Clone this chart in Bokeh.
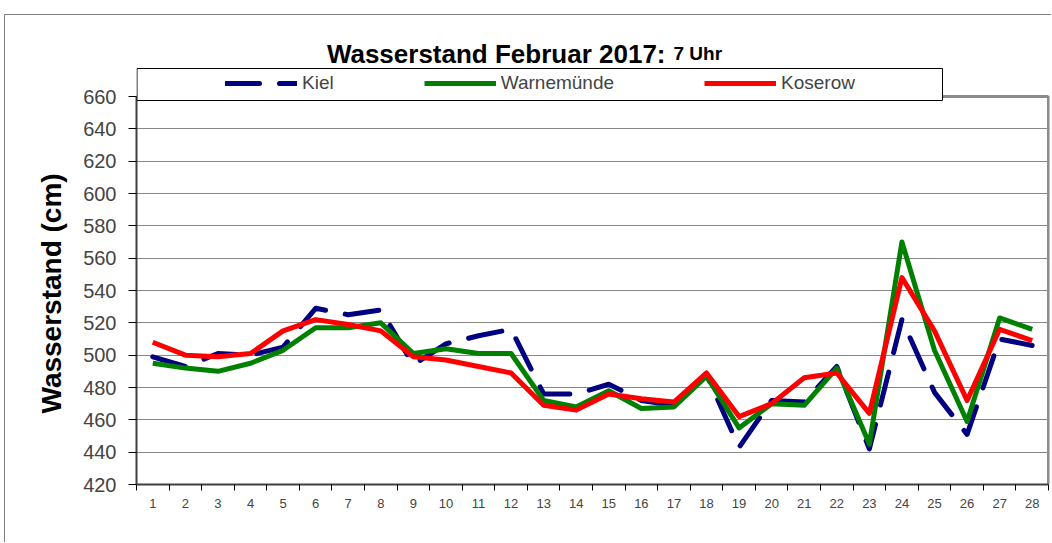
from bokeh.plotting import figure
from bokeh.models import (Range1d, FixedTicker, Legend, LegendItem, Label, Title,
                          BoxAnnotation, ColumnDataSource)
from bokeh.embed import file_html
from bokeh.resources import INLINE

# ---- data ----
days = list(range(1, 29))
day_labels = [str(d) for d in days]
kiel = [499, 493, 501, 500, 505, 529, 525, 528, 494, 507, 512, 516, 476, 476,
        482, 472, 469, 488, 443, 472, 471, 493, 442, 522, 477, 451, 510, 506]
warnemuende = [495, 492, 490, 495, 503, 517, 517, 520, 501, 504, 501, 501, 472, 468,
               478, 467, 468, 487, 455, 470, 469, 492, 445, 570, 503, 459, 523, 516]
koserow = [508, 500, 499, 501, 515, 522, 519, 515, 499, 497, 493, 489, 469, 466,
           476, 473, 471, 489, 462, 470, 486, 489, 464, 548, 515, 472, 516, 509]
y_ticks = list(range(420, 661, 20))
series_names = ["Kiel", "Warnemünde", "Koserow"]
title_main = "Wasserstand Februar 2017:"
title_sub = "7 Uhr"
y_title = "Wasserstand (cm)"

FONT = "Liberation Sans"

# ---- layout (page pixels) ----
OX, OY = 5, 15                  # canvas origin on the page (after css margin+border)
PAGE_W, PAGE_H = 1052, 543
W, H = PAGE_W - OX, PAGE_H - OY
F_LEFT, F_RIGHT, F_BOTTOM = 136, 1049, 484     # frame edges (page px)
PLOT_TOP = 96                                   # where the value 660 sits
ML, MR, MT, MB = F_LEFT - OX, PAGE_W - F_RIGHT, 0, PAGE_H - F_BOTTOM
FW, FH = W - ML - MR, H - MT - MB
YMIN, YMAX = 420, 660
ppu_y = (F_BOTTOM - PLOT_TOP) / (YMAX - YMIN)
ppu_x = (1048 - F_LEFT) / 28.0
X0 = 0.5
X1 = X0 + FW / ppu_x
Y1 = YMIN + FH / ppu_y

p = figure(width=W, height=H, output_backend="svg", toolbar_location=None,
           x_range=Range1d(X0, X1), y_range=Range1d(YMIN, Y1),
           min_border_left=ML, min_border_right=MR, min_border_top=MT,
           min_border_bottom=MB, background_fill_color="white",
           border_fill_color="white")
p.styles = {"margin-left": "4px", "margin-top": "14px",
            "border-left": "1px solid #808080", "border-top": "1px solid #808080"}


def px_x(px):
    return X0 + (px - F_LEFT) / ppu_x


def px_y(py):
    return YMIN + (F_BOTTOM - py) / ppu_y


p.outline_line_color = None

# axes
p.xaxis.bounds = (0.5, 28.5)
p.xaxis.ticker = FixedTicker(ticks=days, minor_ticks=[d - 0.5 for d in days] + [28.5])
p.xaxis.major_label_overrides = {d: l for d, l in zip(days, day_labels)}
p.xaxis.major_tick_out = 0
p.xaxis.major_tick_in = 0
p.xaxis.minor_tick_out = 6
p.xaxis.minor_tick_in = 0
p.xaxis.minor_tick_line_color = "black"
p.xaxis.axis_line_color = "#404040"
p.xaxis.axis_line_width = 2
p.xaxis.major_label_text_font = FONT
p.xaxis.major_label_text_font_size = "13px"
p.xaxis.major_label_standoff = 8

p.yaxis.bounds = (YMIN, YMAX)
p.yaxis.ticker = FixedTicker(ticks=y_ticks, minor_ticks=[])
p.yaxis.major_tick_out = 8
p.yaxis.major_tick_in = 0
p.yaxis.major_tick_line_color = "black"
p.yaxis.axis_line_color = "#404040"
p.yaxis.axis_line_width = 2
p.yaxis.major_label_text_font = FONT
p.yaxis.major_label_text_font_size = "20px"
p.yaxis.major_label_standoff = 12

# y title as a side Title, started from the bottom so it sits centred on 420..660
ytitle = Title(text=y_title, align="left", offset=F_BOTTOM - 413,
               text_font=FONT, text_font_size="28px", text_font_style="bold",
               text_color="black", standoff=28)
p.add_layout(ytitle, "left")

p.xgrid.visible = False
p.ygrid.ticker = FixedTicker(ticks=y_ticks)
p.ygrid.bounds = (YMIN, YMAX)
p.ygrid.grid_line_color = "#111111"
p.ygrid.grid_line_dash = "1 1"
p.ygrid.grid_line_width = 1

# plot-area border (top / right, grey)
p.line([0.5, 28.5], [YMAX, YMAX], line_color="#8c8c8c", line_width=3)
p.line([28.5, 28.5], [YMIN, YMAX], line_color="#8c8c8c", line_width=3)

src = ColumnDataSource(dict(day=days, kiel=kiel, warn=warnemuende, kos=koserow))
r1 = p.line("day", "kiel", source=src, line_color="#000080", line_width=5,
            line_dash="34 20", line_cap="round", line_join="round")
r2 = p.line("day", "warn", source=src, line_color="#008000", line_width=5,
            line_join="round")
r3 = p.line("day", "kos", source=src, line_color="#ff0000", line_width=5,
            line_join="round")

# legend box
lbox = BoxAnnotation(left=px_x(136.5), right=px_x(942), top=px_y(68), bottom=px_y(100),
                     fill_color="white", fill_alpha=1, line_color="black",
                     line_alpha=1, line_width=1)
p.add_layout(lbox)

legend = Legend(items=[LegendItem(label=series_names[0], renderers=[r1]),
                       LegendItem(label=series_names[1], renderers=[r2]),
                       LegendItem(label=series_names[2], renderers=[r3])],
                orientation="horizontal", location=(225 - F_LEFT, F_BOTTOM - 94),
                padding=0, spacing=90, margin=0, glyph_width=72, glyph_height=20,
                label_height=20, label_standoff=5, label_text_font=FONT,
                label_text_font_size="19px", border_line_alpha=0,
                background_fill_alpha=0)
p.add_layout(legend, "center")

# title (two font sizes)
p.add_layout(Label(x=px_x(665), y=px_y(53), text=title_main, text_align="right",
                   text_baseline="alphabetic", text_font=FONT, text_font_size="26px",
                   text_font_style="bold", text_color="black"))
p.add_layout(Label(x=px_x(673), y=px_y(53), text=title_sub, text_align="left",
                   text_baseline="alphabetic", text_font=FONT, text_font_size="19px",
                   text_font_style="bold", text_color="black"))

open("out.html", "w").write(file_html(p, INLINE))
